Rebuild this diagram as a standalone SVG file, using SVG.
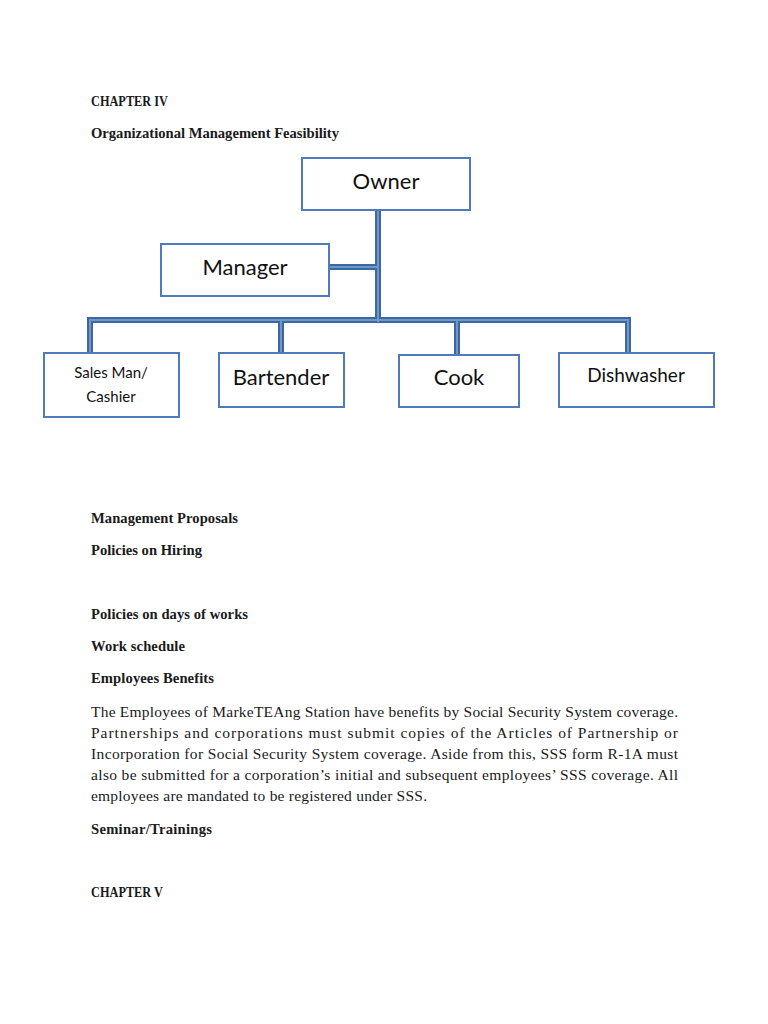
<svg xmlns="http://www.w3.org/2000/svg" width="768" height="1024" viewBox="0 0 768 1024">
<style>
.h{font-family:"Liberation Serif","DejaVu Serif",serif;font-weight:bold;font-size:14.6px;fill:#1a1a1a}
.p{font-family:"Liberation Serif","DejaVu Serif",serif;font-size:15.5px;fill:#1a1a1a}
.box{fill:#fff;stroke:#4f7bbd;stroke-width:2}
.lbl{font-family:Lato,"Open Sans",sans-serif;fill:#111;text-anchor:middle}
.co{fill:none;stroke:#3d679f;stroke-width:6}
.ci{fill:none;stroke:#6e97cc;stroke-width:2}
</style>
<rect width="768" height="1024" fill="#fff"/>
<text class="h" x="91" y="106" textLength="77" lengthAdjust="spacingAndGlyphs">CHAPTER IV</text>
<text class="h" x="91" y="138" textLength="248">Organizational Management Feasibility</text>
<g id="connectors">
<path class="co" d="M378 210V322M329 267H378M90 353V320H628V353M281 320V353M457 320V355"/>
<path class="ci" d="M378 210V322M329 267H378M90 353V320H628V353M281 320V353M457 320V355"/>
</g>
<g id="owner"><rect class="box" x="302" y="158" width="168" height="52"/><text class="lbl" x="386" y="189" font-size="22">Owner</text></g>
<g id="manager"><rect class="box" x="161" y="244" width="168" height="52"/><text class="lbl" x="245" y="275" font-size="22">Manager</text></g>
<g id="sales"><rect class="box" x="44" y="353" width="135" height="64"/><text class="lbl" x="111" y="378" font-size="15">Sales Man/</text><text class="lbl" x="111" y="402" font-size="15">Cashier</text></g>
<g id="bartender"><rect class="box" x="219" y="353" width="125" height="54"/><text class="lbl" x="281" y="385" font-size="22">Bartender</text></g>
<g id="cook"><rect class="box" x="399" y="355" width="120" height="52"/><text class="lbl" x="459" y="385" font-size="22">Cook</text></g>
<g id="dishwasher"><rect class="box" x="559" y="353" width="155" height="54"/><text class="lbl" x="636" y="382" font-size="19">Dishwasher</text></g>
<text class="h" x="91" y="523" textLength="147">Management Proposals</text>
<text class="h" x="91" y="555" textLength="111">Policies on Hiring</text>
<text class="h" x="91" y="619" textLength="157">Policies on days of works</text>
<text class="h" x="91" y="651" textLength="94">Work schedule</text>
<text class="h" x="91" y="683" textLength="123">Employees Benefits</text>
<text class="p" x="91" y="717" textLength="587" lengthAdjust="spacing">The Employees of MarkeTEAng Station have benefits by Social Security System coverage.</text>
<text class="p" x="91" y="738" textLength="587" lengthAdjust="spacing">Partnerships and corporations must submit copies of the Articles of Partnership or</text>
<text class="p" x="91" y="759" textLength="587" lengthAdjust="spacing">Incorporation for Social Security System coverage. Aside from this, SSS form R-1A must</text>
<text class="p" x="91" y="780" textLength="587" lengthAdjust="spacing">also be submitted for a corporation’s initial and subsequent employees’ SSS coverage. All</text>
<text class="p" x="91" y="801" textLength="336">employees are mandated to be registered under SSS.</text>
<text class="h" x="91" y="834" textLength="121">Seminar/Trainings</text>
<text class="h" x="91" y="897" textLength="72" lengthAdjust="spacingAndGlyphs">CHAPTER V</text>
</svg>
